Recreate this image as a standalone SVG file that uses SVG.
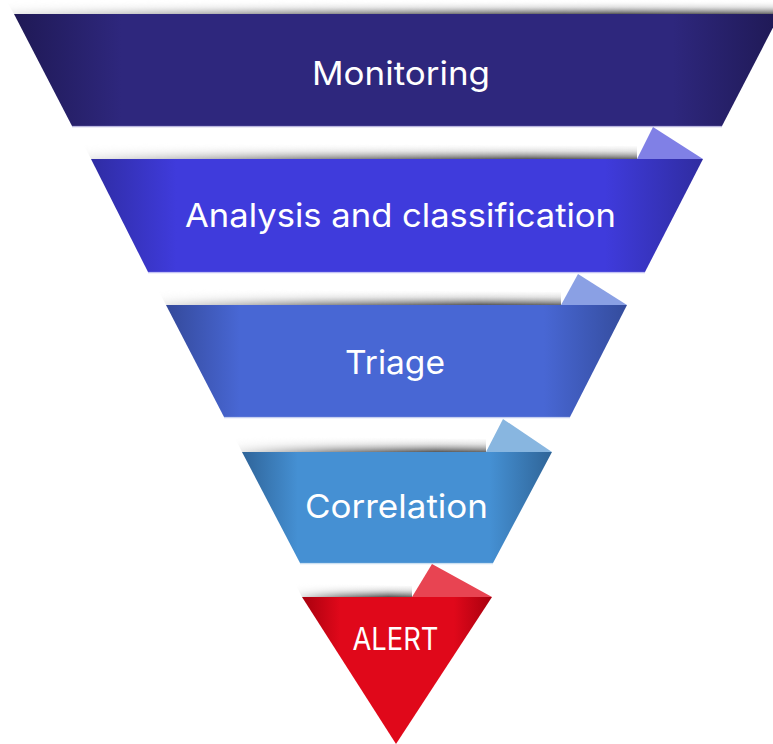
<svg xmlns="http://www.w3.org/2000/svg" width="773" height="744" viewBox="0 0 773 744">
  <defs>
    <style>
      .label { font-family: Inter, "Open Sans", "Liberation Sans", sans-serif; font-weight: 400; fill: #ffffff; text-anchor: middle; }
      .rim { stroke-width: 1.5; fill: none; opacity: 0.6; }
    </style>
    <!-- horizontal shading: darker at both ends of each band -->
    <linearGradient id="g1" x1="0" y1="0" x2="1" y2="0">
      <stop offset="0" stop-color="#1f1955"/>
      <stop offset="0.14" stop-color="#2e277d"/>
      <stop offset="0.86" stop-color="#2e277d"/>
      <stop offset="1" stop-color="#1f1955"/>
    </linearGradient>
    <linearGradient id="g2" x1="0" y1="0" x2="1" y2="0">
      <stop offset="0" stop-color="#2f2ca3"/>
      <stop offset="0.14" stop-color="#3f3bdc"/>
      <stop offset="0.84" stop-color="#3f3bdc"/>
      <stop offset="1" stop-color="#2f2ca0"/>
    </linearGradient>
    <linearGradient id="g3" x1="0" y1="0" x2="1" y2="0">
      <stop offset="0" stop-color="#34499a"/>
      <stop offset="0.16" stop-color="#4867d4"/>
      <stop offset="0.82" stop-color="#4867d4"/>
      <stop offset="1" stop-color="#344c9c"/>
    </linearGradient>
    <linearGradient id="g4" x1="0" y1="0" x2="1" y2="0">
      <stop offset="0" stop-color="#2f6499"/>
      <stop offset="0.18" stop-color="#4590d3"/>
      <stop offset="0.8" stop-color="#4590d3"/>
      <stop offset="1" stop-color="#2f6497"/>
    </linearGradient>
    <linearGradient id="g5" x1="0" y1="0" x2="1" y2="0">
      <stop offset="0" stop-color="#a8000e"/>
      <stop offset="0.2" stop-color="#e0081a"/>
      <stop offset="0.8" stop-color="#e0081a"/>
      <stop offset="1" stop-color="#a8000e"/>
    </linearGradient>
    <!-- curled-paper shadow above each band -->
    <linearGradient id="shadeY" x1="0" y1="0" x2="0" y2="1">
      <stop offset="0" stop-color="#ffffff" stop-opacity="0"/>
      <stop offset="0.5" stop-color="#c4c4c4" stop-opacity="0.55"/>
      <stop offset="1" stop-color="#555555" stop-opacity="1"/>
    </linearGradient>
    <linearGradient id="fadeXg" x1="0" y1="0" x2="1" y2="0">
      <stop offset="0" stop-color="#fff" stop-opacity="0.1"/>
      <stop offset="0.4" stop-color="#fff" stop-opacity="0.65"/>
      <stop offset="0.8" stop-color="#fff" stop-opacity="1"/>
      <stop offset="1" stop-color="#fff" stop-opacity="0.9"/>
    </linearGradient>
    <mask id="fadeX" maskContentUnits="objectBoundingBox">
      <rect width="1" height="1" fill="url(#fadeXg)"/>
    </mask>
  </defs>

  <rect width="773" height="744" fill="#ffffff"/>

  <g id="monitoring">
    <polygon points="6,0 773,0 773,14 14,14" fill="url(#shadeY)" mask="url(#fadeX)"/>
    <polygon points="14,14 780,14 722,126 72,126" fill="url(#g1)"/>
    <line class="rim" x1="72" y1="126.5" x2="722" y2="126.5" stroke="#8a86c8"/>
    <text class="label" x="401" y="85" font-size="33" textLength="178" lengthAdjust="spacingAndGlyphs">Monitoring</text>
  </g>

  <g id="analysis">
    <polygon points="83,143 637,146 637,159 91,159" fill="url(#shadeY)" mask="url(#fadeX)"/>
    <polygon points="653,127 703,159 637,159" fill="#8080e6"/>
    <polygon points="91,159 703,159 645,272 148,272" fill="url(#g2)"/>
    <line class="rim" x1="148" y1="272.5" x2="645" y2="272.5" stroke="#9a98ee"/>
    <text class="label" x="400.5" y="227" font-size="33" textLength="431" lengthAdjust="spacingAndGlyphs">Analysis and classification</text>
  </g>

  <g id="triage">
    <polygon points="158,289 561,292 561,305 166,305" fill="url(#shadeY)" mask="url(#fadeX)"/>
    <polygon points="578,274 627,305 561,305" fill="#8aa0e4"/>
    <polygon points="166,305 627,305 570,417 224,417" fill="url(#g3)"/>
    <line class="rim" x1="224" y1="417.5" x2="570" y2="417.5" stroke="#9fb0e6"/>
    <text class="label" x="395" y="374" font-size="33" textLength="100" lengthAdjust="spacingAndGlyphs">Triage</text>
  </g>

  <g id="correlation">
    <polygon points="234,436 486,439 486,452 242,452" fill="url(#shadeY)" mask="url(#fadeX)"/>
    <polygon points="503,419 552,452 486,452" fill="#88b6e0"/>
    <polygon points="242,452 552,452 493,563 300,563" fill="url(#g4)"/>
    <line class="rim" x1="300" y1="563.5" x2="493" y2="563.5" stroke="#a8cbe8"/>
    <text class="label" x="396.5" y="518" font-size="33" textLength="183" lengthAdjust="spacingAndGlyphs">Correlation</text>
  </g>

  <g id="alert">
    <polygon points="295,583 412,586 412,597 302,597" fill="url(#shadeY)" mask="url(#fadeX)"/>
    <polygon points="432,564 492,597 412,597" fill="#e84452"/>
    <polygon points="302,597 492,597 396,744" fill="url(#g5)"/>
    <text class="label" x="395.5" y="650" font-size="31" font-weight="500" textLength="86" lengthAdjust="spacingAndGlyphs">ALERT</text>
  </g>
</svg>
